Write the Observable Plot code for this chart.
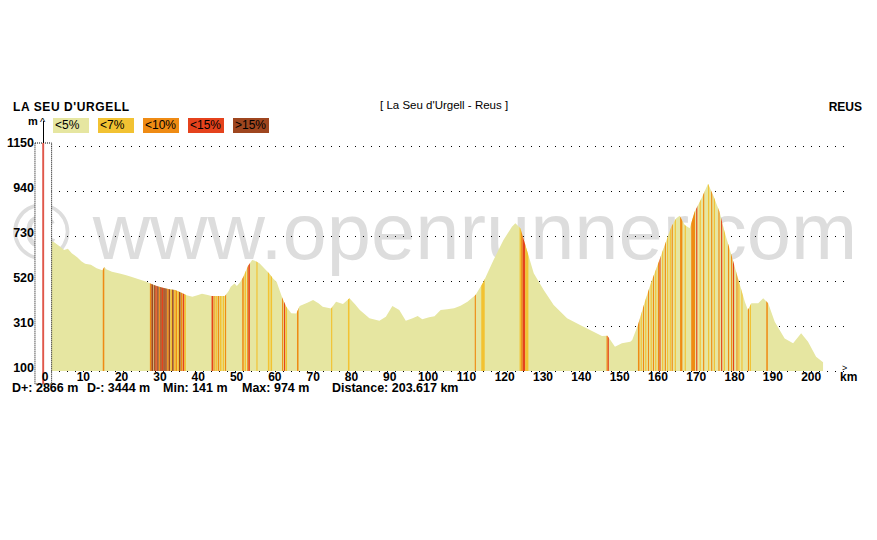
<!DOCTYPE html>
<html>
<head>
<meta charset="utf-8">
<script src="https://cdn.jsdelivr.net/npm/d3@7"></script>
<script src="https://cdn.jsdelivr.net/npm/@observablehq/plot@0.6"></script>
<style>
  body { margin: 0; background: #fff; }
  #wrap { position: relative; width: 877px; height: 540px; font-family: "Liberation Sans", Arial, sans-serif; color: #000; background: #fff; }
  #wrap svg { position: absolute; left: 0; top: 0; }
  .t { position: absolute; white-space: nowrap; line-height: 1; }
  .lg { position: absolute; top: 118px; width: 36px; height: 15px; line-height: 15px; font-size: 12px; padding-left: 2px; box-sizing: border-box; }
</style>
</head>
<body>
<div id="wrap"></div>
<script>
// ---- data ----
const startName = "LA SEU D'URGELL";
const endName = "REUS";
const routeName = "[ La Seu d'Urgell - Reus ]";
const stats = ["D+: 2866 m", "D-: 3444 m", "Min: 141 m", "Max: 974 m", "Distance: 203.617 km"];
const watermark = "\u00a9 www.openrunner.com";

const profileKm = [0, 1.5, 3, 4.5, 5.5, 6.5, 7.5, 9, 10, 11, 12.5, 14, 15.5, 16, 16.5, 18, 20, 21.5, 23, 25, 27, 28, 29.5, 31, 33, 34.5, 36, 37.5, 39, 40.5, 41.5, 43, 44, 47.5, 48.5, 49, 50, 50.6, 51.5, 52.3, 53.5, 54.6, 55.3, 56.5, 58, 59, 60, 61, 61.8, 62.5, 63.5, 64.8, 66.1, 67, 69, 70.5, 72, 73, 75.2, 76.5, 78.3, 80, 81.5, 82.7, 84, 85.2, 87.8, 89.5, 91.2, 93, 94.7, 96.5, 97.8, 99, 100.8, 102.2, 103.8, 105.5, 107.3, 109, 110.8, 112.9, 115, 117.6, 120.2, 122.4, 123.3, 124.6, 126.3, 128.1, 130.7, 133.3, 136.8, 140.2, 143.7, 145.9, 147.3, 147.7, 149.3, 151.1, 153.3, 153.8, 155.3, 157.1, 158.8, 160.6, 162.3, 164, 165.3, 166.2, 167.5, 168.8, 170.1, 171.9, 173.6, 174.9, 176.6, 177.9, 179.7, 181.4, 183.2, 184, 184.9, 186.7, 188, 189.3, 191, 193.6, 195.8, 197.9, 199.7, 201.8, 203.617];
const profileEle = [700, 712, 700, 680, 665, 670, 650, 630, 612, 600, 596, 580, 570, 585, 575, 563, 555, 548, 540, 528, 517, 508, 498, 490, 481, 478, 466, 453, 447, 455, 460, 455, 450, 450, 475, 493, 508, 497, 515, 540, 590, 618, 615, 603, 575, 556, 533, 515, 475, 440, 400, 370, 368, 403, 418, 431, 415, 400, 392, 423, 413, 439, 410, 385, 365, 346, 335, 353, 403, 385, 335, 346, 357, 341, 351, 355, 385, 388, 393, 405, 423, 455, 517, 618, 711, 773, 789, 766, 665, 556, 478, 408, 346, 315, 283, 263, 265, 255, 213, 229, 237, 245, 315, 423, 517, 603, 688, 773, 813, 825, 781, 766, 843, 906, 974, 921, 843, 750, 641, 533, 423, 385, 416, 416, 439, 416, 330, 252, 229, 276, 237, 167, 141];

const gradeClasses = ["<5%", "<7%", "<10%", "<15%", ">15%"];

const stripeFrom = [15.6, 27.9, 28.3, 29.0, 29.4, 29.8, 30.3, 30.6, 31.0, 31.4, 31.9, 32.4, 32.8, 33.3, 33.7, 34.2, 34.6, 35.1, 35.5, 36.0, 36.5, 36.9, 44.0, 44.5, 45.0, 45.6, 46.2, 46.9, 47.5, 52.0, 52.6, 53.3, 53.6, 55.7, 58.7, 59.4, 62.4, 62.9, 63.3, 66.3, 75.2, 79.6, 112.7, 114.4, 124.4, 124.8, 125.2, 125.9, 147.1, 147.4, 155.3, 156.0, 156.6, 157.2, 157.9, 158.6, 159.2, 159.8, 160.5, 160.9, 161.6, 162.3, 162.9, 163.6, 164.1, 164.9, 166.3, 167.5, 169.2, 170.5, 171.4, 172.3, 173.6, 174.4, 175.1, 176.3, 177.0, 177.7, 178.8, 179.6, 180.1, 181.0, 181.5, 182.3, 184.0, 184.5, 188.8];
const stripeTo = [16.0, 28.3, 28.8, 29.4, 29.7, 30.2, 30.6, 31.0, 31.4, 31.8, 32.3, 32.8, 33.2, 33.7, 34.1, 34.6, 35.0, 35.5, 35.9, 36.4, 36.9, 37.3, 44.4, 44.8, 45.4, 46.0, 46.6, 47.3, 47.8, 52.4, 53.0, 53.6, 54.0, 56.0, 59.1, 59.8, 62.7, 63.2, 63.7, 66.7, 75.5, 80.0, 113.0, 115.3, 124.8, 125.2, 125.9, 126.7, 147.4, 147.7, 155.7, 156.3, 156.9, 157.5, 158.2, 158.9, 159.5, 160.1, 160.8, 161.2, 161.9, 162.6, 163.2, 163.9, 164.4, 165.2, 166.9, 167.8, 170.2, 170.8, 171.7, 172.6, 173.9, 174.7, 175.4, 176.6, 177.3, 178.0, 179.1, 179.9, 180.4, 181.3, 181.8, 182.6, 184.3, 184.8, 189.2];
const stripeGrade = ["<10%", "<10%", ">15%", ">15%", "<15%", ">15%", "<10%", ">15%", "<15%", ">15%", ">15%", "<10%", ">15%", "<7%", ">15%", "<7%", "<10%", "<7%", ">15%", "<10%", "<15%", "<7%", "<15%", "<10%", "<7%", "<10%", "<7%", "<7%", "<10%", "<10%", "<7%", "<10%", "<15%", "<7%", "<7%", "<7%", "<10%", "<15%", "<7%", "<10%", "<7%", "<7%", "<10%", "<7%", "<7%", "<10%", "<15%", "<7%", "<10%", "<15%", "<10%", "<7%", "<10%", "<7%", "<10%", "<7%", "<10%", "<7%", "<10%", "<15%", "<7%", "<10%", "<7%", "<7%", "<10%", "<7%", "<10%", "<7%", "<10%", "<15%", "<7%", "<10%", "<7%", "<10%", "<7%", "<10%", "<15%", "<7%", "<10%", "<10%", "<15%", "<10%", "<7%", "<7%", "<10%", "<7%", "<10%"];

const xTicks = [0, 10, 20, 30, 40, 50, 60, 70, 80, 90, 100, 110, 120, 130, 140, 150, 160, 170, 180, 190, 200];
const yTicks = [100, 310, 520, 730, 940, 1150];
const cursorKm = 0;

// ---- styles ----
const gradeColors = ["#e6e6a1", "#f2c232", "#ef8b14", "#e5421c", "#9f461f"];
const font = "Liberation Sans, Arial, sans-serif";

const profile = profileKm.map((km, i) => ({km, ele: profileEle[i]}));
const stripes = stripeFrom.map((a, i) => ({a, b: stripeTo[i], g: stripeGrade[i]}));
const color = g => gradeColors[gradeClasses.indexOf(g)];

const wrap = document.getElementById("wrap");

function addText(txt, css) {
  const d = document.createElement("div");
  d.className = "t";
  d.textContent = txt;
  Object.assign(d.style, css);
  wrap.appendChild(d);
  return d;
}

// watermark sits behind the chart
addText(watermark, {left: "12px", top: "192px", fontSize: "79.5px", color: "#dddddd"});

const svg = Plot.plot({
  width: 877,
  height: 540,
  marginLeft: 43,
  marginRight: 29.5,
  marginTop: 146,
  marginBottom: 169,
  style: {fontFamily: font, fontSize: "12px", fontWeight: "bold", background: "transparent", color: "#000"},
  x: {domain: [0, 210], axis: null},
  y: {domain: [100, 1150], axis: null},
  marks: [
    Plot.ruleY(yTicks, {stroke: "#000", strokeDasharray: "1,7", strokeWidth: 1}),
    Plot.areaY(profile, {x: "km", y1: 100, y2: "ele", fill: gradeColors[0], fillOpacity: 1}),
    Plot.rect(stripes, {x1: "a", x2: "b", y1: 100, y2: 1150, fill: d => color(d.g)}),
    Plot.rect([cursorKm], {x1: d => d - 2.1, x2: d => d + 2.25, y1: 100, y2: 1150, fill: "white", stroke: "#000", strokeDasharray: "1,1", strokeWidth: 1, insetTop: -3, insetBottom: -13}),
    Plot.rect([cursorKm], {x1: d => d - 0.2, x2: d => d + 0.3, y1: 100, y2: 1150, fill: "#e0574a", insetTop: -3, insetBottom: -13}),
    Plot.axisX(xTicks, {tickSize: 0, tickPadding: 1, dx: 1.5, fontWeight: "bold", fontSize: 12, fill: "#000", tickFormat: d => String(d), label: null}),
    Plot.axisY(yTicks, {tickSize: 0, tickPadding: 9.5, lineAnchor: "bottom", fontWeight: "bold", fontSize: 12.5, fill: "#000", tickFormat: d => String(d), label: null})
  ]
});

// clip the grade stripes to the elevation profile
const ns = "http://www.w3.org/2000/svg";
const areaPath = svg.querySelector('g[aria-label="area"] path');
const stripesG = svg.querySelectorAll('g[aria-label="rect"]')[0];
if (areaPath && stripesG) {
  const defs = document.createElementNS(ns, "defs");
  const cp = document.createElementNS(ns, "clipPath");
  cp.setAttribute("id", "profile-clip");
  const p = document.createElementNS(ns, "path");
  p.setAttribute("d", areaPath.getAttribute("d"));
  cp.appendChild(p);
  defs.appendChild(cp);
  svg.insertBefore(defs, svg.firstChild);
  stripesG.setAttribute("clip-path", "url(#profile-clip)");
}

wrap.appendChild(svg);

addText(startName, {left: "13px", top: "101px", fontSize: "12px", fontWeight: "bold", letterSpacing: "0.6px"});
addText(routeName, {left: "380px", top: "99.5px", fontSize: "11.5px"});
addText(endName, {right: "15px", top: "101px", fontSize: "12px", fontWeight: "bold"});
addText("m", {left: "28px", top: "116px", fontSize: "11px", fontWeight: "bold"});
addText("^", {left: "40px", top: "117px", fontSize: "11px"});
// y axis stub
const stub = document.createElement("div");
Object.assign(stub.style, {position: "absolute", left: "43px", top: "121px", width: "1px", height: "22px", background: "#000"});
wrap.appendChild(stub);

// legend
const legendLeft = [53, 98, 143, 188, 233];
gradeClasses.forEach((g, i) => {
  const d = document.createElement("div");
  d.className = "lg";
  d.textContent = g;
  d.style.left = legendLeft[i] + "px";
  d.style.background = gradeColors[i];
  wrap.appendChild(d);
});

// stats
const statLeft = [12, 87, 163, 242, 332];
stats.forEach((s, i) => addText(s, {left: statLeft[i] + "px", top: "381.5px", fontSize: "12.5px", fontWeight: "bold"}));

// km arrow
addText(">", {left: "842px", top: "364px", fontSize: "9px"});
addText("km", {left: "840px", top: "371px", fontSize: "12px", fontWeight: "bold"});
</script>
</body>
</html>
